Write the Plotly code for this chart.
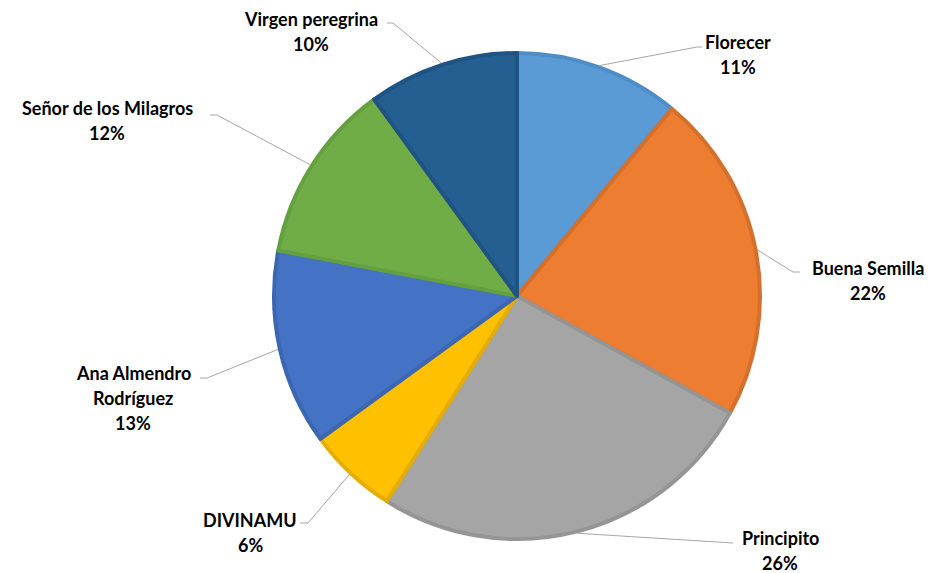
import math
import plotly.graph_objects as go

# ---- data ----
labels = ["Florecer", "Buena Semilla", "Principito", "DIVINAMU",
          "Ana Almendro Rodríguez", "Señor de los Milagros", "Virgen peregrina"]
values = [11, 22, 26, 6, 13, 12, 10]

# ---- style ----
fill_colors = ["#5B9BD5", "#ED7D31", "#A5A5A5", "#FFC000", "#4472C4", "#70AD47", "#255E91"]
edge_colors = ["#4F8DC6", "#D4702B", "#959595", "#E5AD00", "#3C66B2", "#64A03F", "#1F5383"]

OFF = 8  # page body margin offset
W, H = 936 - OFF, 573 - OFF
CX, CY, R = 517, 296, 243  # pie centre / radius in reference pixels

# label layout: text lines, centre x, first-line y, elbow point, line end (reference pixels)
label_layout = {
    "Florecer": dict(lines=["Florecer"], cx=738, y=42, elbow=(697, 47), end=(702, 47)),
    "Buena Semilla": dict(lines=["Buena Semilla"], cx=868, y=268, elbow=(793, 272), end=(800, 272)),
    "Principito": dict(lines=["Principito"], cx=780, y=538, elbow=(733, 543), end=(733, 543)),
    "DIVINAMU": dict(lines=["DIVINAMU"], cx=250, y=520, elbow=(308, 523), end=(300, 523)),
    "Ana Almendro Rodríguez": dict(lines=["Ana Almendro", "Rodríguez"], cx=133, y=373,
                                   elbow=(207, 378), end=(200, 378)),
    "Señor de los Milagros": dict(lines=["Señor de los Milagros"], cx=107, y=108,
                                  elbow=(217, 115), end=(210, 115)),
    "Virgen peregrina": dict(lines=["Virgen peregrina"], cx=311, y=19, elbow=(393, 23), end=(387, 23)),
}
LINE_H = 25


def px(x):
    return (x - OFF) / W


def py(y):
    return 1 - (y - OFF) / H


fig = go.Figure(go.Pie(
    labels=labels,
    values=values,
    sort=False,
    direction="clockwise",
    rotation=0,
    textinfo="none",
    hoverinfo="label+percent",
    marker=dict(colors=fill_colors, line=dict(color=edge_colors, width=4)),
    domain=dict(x=[px(CX - R), px(CX + R)], y=[py(CY + R), py(CY - R)]),
    showlegend=False,
))

total = sum(values)
cum = 0
annotations = []
shapes = []
for lab, v in zip(labels, values):
    mid = (cum + v / 2) / total * 2 * math.pi
    cum += v
    ex = CX + (R + 2) * math.sin(mid)
    ey = CY - (R + 2) * math.cos(mid)
    L = label_layout[lab]
    (bx, by), (tx, ty) = L["elbow"], L["end"]
    shapes.append(dict(
        type="path", xref="paper", yref="paper",
        path=f"M {px(ex)} {py(ey)} L {px(bx)} {py(by)} L {px(tx)} {py(ty)}",
        line=dict(color="#A6A6A6", width=1),
    ))
    pct = f"{round(v / total * 100)}%"
    for i, t in enumerate(L["lines"] + [pct]):
        annotations.append(dict(
            x=px(L["cx"]), y=py(L["y"] + i * LINE_H), xref="paper", yref="paper",
            text=f"<b>{t}</b>", showarrow=False, xanchor="center", yanchor="middle",
            font=dict(family="Lato", size=18, color="#000000"),
        ))

fig.update_layout(
    width=W, height=H,
    margin=dict(l=0, r=0, t=0, b=0),
    paper_bgcolor="white", plot_bgcolor="white",
    annotations=annotations,
    shapes=shapes,
)

fig.write_html("out.html")
